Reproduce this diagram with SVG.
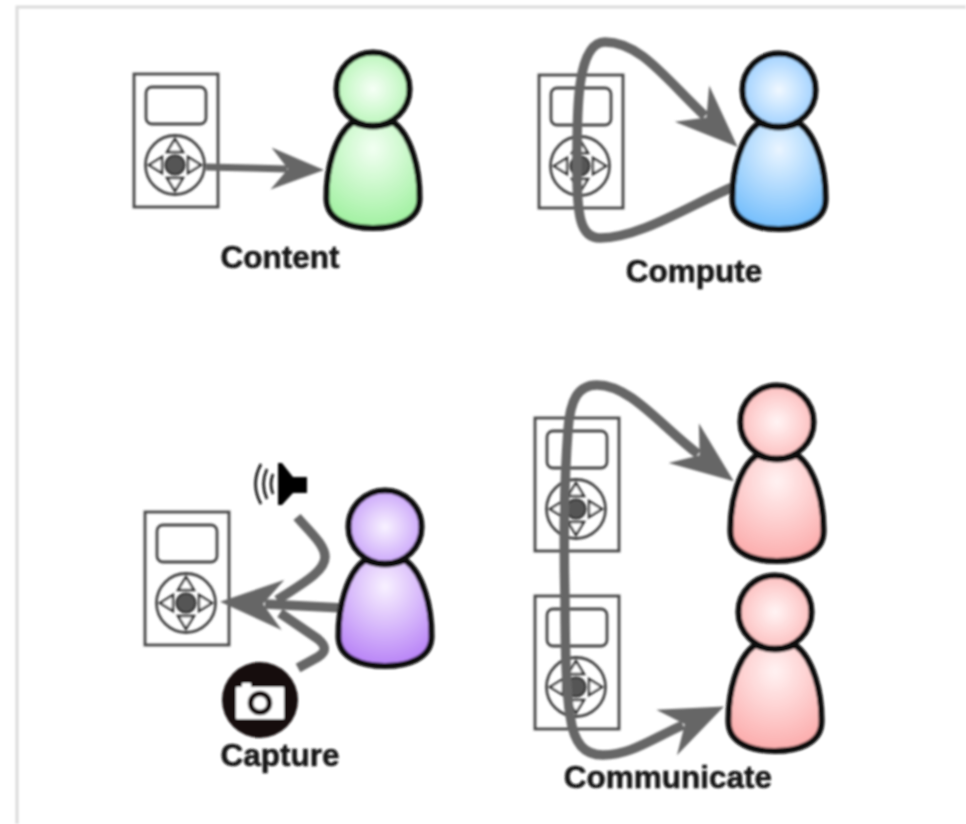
<svg xmlns="http://www.w3.org/2000/svg" xmlns:xlink="http://www.w3.org/1999/xlink" width="966" height="824" viewBox="0 0 966 824">
<style>
.b{stroke:#0a0a0a;stroke-width:6}
.dev{fill:none;stroke:#444;stroke-width:2.8}
.tri{fill:#fff;stroke:#333;stroke-width:2.4}
.c{fill:none;stroke:#666;stroke-width:9.5;stroke-linejoin:round}
.l{font-family:"Liberation Sans",Arial,sans-serif;font-weight:700;font-size:31.5px;fill:#141414;stroke:#141414;stroke-width:.5;text-anchor:middle}
</style>
<defs>
<filter id="soft" x="0" y="0" width="966" height="824" filterUnits="userSpaceOnUse"><feGaussianBlur stdDeviation="1.2"/></filter>
<radialGradient id="gh" cx=".5" cy=".5" r=".5"><stop offset="0" stop-color="#f6fff6"/><stop offset="1" stop-color="#bcf6bc"/></radialGradient>
<radialGradient id="gb" cx=".5" cy=".25" r=".8"><stop offset="0" stop-color="#f2fff2"/><stop offset="1" stop-color="#9cf09c"/></radialGradient>
<radialGradient id="bh" cx=".5" cy=".5" r=".5"><stop offset="0" stop-color="#f0f8ff"/><stop offset="1" stop-color="#a2d2ff"/></radialGradient>
<radialGradient id="bb" cx=".5" cy=".25" r=".8"><stop offset="0" stop-color="#eaf5ff"/><stop offset="1" stop-color="#6cbafc"/></radialGradient>
<radialGradient id="ph" cx=".5" cy=".5" r=".5"><stop offset="0" stop-color="#f8f2ff"/><stop offset="1" stop-color="#cca8fa"/></radialGradient>
<radialGradient id="pb" cx=".5" cy=".25" r=".8"><stop offset="0" stop-color="#f8f1ff"/><stop offset="1" stop-color="#b47cf6"/></radialGradient>
<radialGradient id="rh" cx=".5" cy=".5" r=".5"><stop offset="0" stop-color="#fff4f4"/><stop offset="1" stop-color="#fdc0c0"/></radialGradient>
<radialGradient id="rb" cx=".5" cy=".25" r=".8"><stop offset="0" stop-color="#fff2f2"/><stop offset="1" stop-color="#fca8a8"/></radialGradient>
<marker id="a1" markerUnits="userSpaceOnUse" markerWidth="60" markerHeight="50" refX="16" refY="23" orient="auto"><polygon points="0,2 17,23 0,44 53,23" fill="#666"/></marker>
<marker id="a2" markerUnits="userSpaceOnUse" markerWidth="70" markerHeight="56" refX="18" refY="26" orient="auto"><polygon points="0,1 20,26 0,51 63,26" fill="#666"/></marker>
<g id="device">
<rect class="dev" x="0" y="0" width="84" height="133"/>
<rect class="dev" x="12" y="13" width="60" height="37" rx="6"/>
<circle class="dev" cx="41" cy="91" r="29.5"/>
<polygon class="tri" points="41,65 33,78 49,78"/>
<polygon class="tri" points="41,117 33,104 49,104"/>
<polygon class="tri" points="15,91 28,83 28,99"/>
<polygon class="tri" points="67,91 54,83 54,99"/>
<circle cx="41" cy="91" r="9.5" fill="#555" stroke="#333" stroke-width="2.2"/>
</g>
<path id="body" d="M-20,33 C-38,46 -47,80 -46.5,110 C-46,132 -22,139 0,139 C22,139 46,132 46.5,110 C47,80 38,46 20,33 Q0,42 -20,33 Z"/>
</defs>
<rect width="966" height="824" fill="#fff"/>
<g filter="url(#soft)">
<path d="M17,824 V7 H966" fill="none" stroke="#dcdcdc" stroke-width="3"/>
<g id="devices">
<use id="device-content" xlink:href="#device" href="#device" x="134" y="74"/>
<use id="device-compute" xlink:href="#device" href="#device" x="539" y="75"/>
<use id="device-capture" xlink:href="#device" href="#device" x="145" y="512"/>
<use id="device-communicate-1" xlink:href="#device" href="#device" x="535" y="418"/>
<use id="device-communicate-2" xlink:href="#device" href="#device" x="535" y="596"/>
</g>
<g id="connectors">
<path class="c" style="stroke-width:7" marker-end="url(#a1)" d="M206,167 L287,169"/>
<path class="c" marker-end="url(#a2)" d="M735,186 C690,205 640,238 600,238 C580,238 577,215 577,170 C577,120 575,42 605,42 C640,42 665,78 705,116"/>
<path class="c" marker-end="url(#a2)" d="M565,600 C563,520 565,470 568,430 C570,400 578,385 597,385 C630,385 660,425 698,454"/>
<path class="c" marker-end="url(#a2)" d="M565,600 C565,650 566,690 570,715 C574,745 585,755 603,755 C630,755 650,740 683,725"/>
<path class="c" marker-end="url(#a2)" d="M343,608 L265,604"/>
<path class="c" d="M297,517 C310,532 325,545 325,557 C325,572 300,585 277,600"/>
<path class="c" d="M298,668 L318,657 C327,651 326,646 318,639 L280,613"/>
</g>
<g id="speaker">
<polygon points="278,463 282,463 293,477 307,477 307,493 293,493 282,505 278,505" fill="#000"/>
<path d="M273,474 Q269,484 273,494 M267,469 Q260,484 267,499 M261,464 Q250,484 261,504" fill="none" stroke="#111" stroke-width="2.6"/>
</g>
<g id="camera">
<circle cx="260" cy="700" r="38" fill="#140f0f"/>
<path d="M237,688 H243 V684 H250 V688 H283 V718 H237 Z" fill="#fff" stroke="#fff" stroke-width="2" stroke-linejoin="round"/>
<circle cx="260" cy="703" r="9.5" fill="#fff" stroke="#140f0f" stroke-width="5.5"/>
</g>
<g id="person-content" transform="translate(373,89)"><use href="#body" xlink:href="#body" fill="url(#gb)" class="b"/><circle r="36.5" fill="url(#gh)" class="b"/></g>
<g id="person-compute" transform="translate(779,90)"><use href="#body" xlink:href="#body" fill="url(#bb)" class="b"/><circle r="36.5" fill="url(#bh)" class="b"/></g>
<g id="person-capture" transform="translate(385,527)"><use href="#body" xlink:href="#body" fill="url(#pb)" class="b"/><circle r="36.5" fill="url(#ph)" class="b"/></g>
<g id="person-communicate-1" transform="translate(777,422)"><use href="#body" xlink:href="#body" fill="url(#rb)" class="b"/><circle r="36.5" fill="url(#rh)" class="b"/></g>
<g id="person-communicate-2" transform="translate(775,612)"><use href="#body" xlink:href="#body" fill="url(#rb)" class="b"/><circle r="36.5" fill="url(#rh)" class="b"/></g>
<g id="labels">
<text class="l" x="280" y="268">Content</text>
<text class="l" x="694" y="282">Compute</text>
<text class="l" x="280" y="766">Capture</text>
<text class="l" x="668" y="788">Communicate</text>
</g>
</g>
</svg>
